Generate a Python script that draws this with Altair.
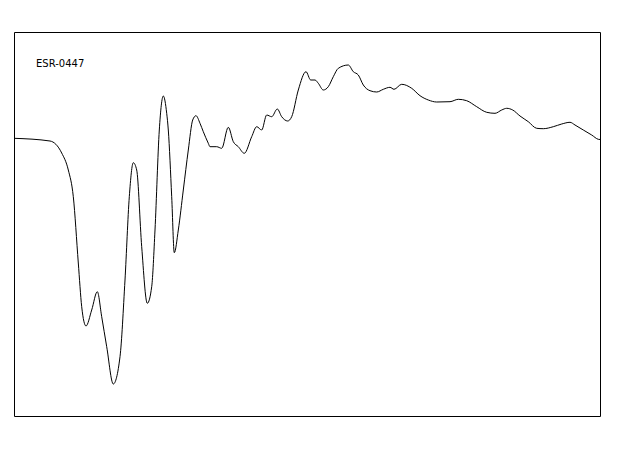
import altair as alt
import pandas as pd

# Spectrum trace (x: channel position, y: signal)
xs = [0, 36, 47.7, 54.3, 59.3, 64.3, 67.7, 72, 77.7, 83.3, 87.7, 92.7, 99.3, 106, 111, 115.3,
      119.3, 122.7, 127.7, 133.3, 137.7, 141, 145.3, 149.3, 152.7, 154.3, 157.7, 160.3, 164.3,
      169.3, 174.3, 178.7, 182, 186, 189.3, 194.3, 196, 202.7, 207.7, 214.3, 219.3, 224.3,
      230.3, 237.7, 242.7, 247.7, 252.7, 257.7, 263.3, 267.7, 273.7, 277.7, 284.3, 292, 296.7,
      301, 304.3, 309.3, 314.3, 319.3, 324.3, 334.3, 339.3, 344.3, 349.3, 356, 362.7, 369.3,
      376, 380, 387.7, 397.7, 406, 414.3, 422.7, 436, 444.3, 452.7, 462.7, 472.7, 481, 487.7,
      492.7, 498.7, 506, 514.3, 522.7, 529.3, 539.3, 547.7, 556, 561, 569.3, 577.7, 584.3, 586]
ys = [277.7, 275, 263, 246, 219.3, 153, 109.3, 90, 106, 124.3, 99.3, 69.3, 32, 59.3, 136,
      219.3, 253.3, 246, 169.3, 112.7, 129.3, 186, 286, 320, 302.7, 286, 219.3, 163.3, 186,
      226, 266, 296, 300.3, 292.7, 284.3, 272.7, 269.3, 269.3, 267.7, 288.7, 274.3, 269.3,
      262.7, 279.3, 289.3, 286, 301, 299.3, 307, 299.3, 295, 299.3, 326, 344.3, 336, 336,
      332.7, 326, 329.3, 339.3, 347.7, 351, 344.3, 341, 331, 325.3, 324, 326.7, 328.7, 326.7,
      331.7, 327.7, 320.3, 316, 314, 314.3, 316.7, 315.3, 309.3, 303.7, 302.7, 306, 307.7,
      306, 300, 294.3, 287.7, 287.3, 289.3, 292, 293.7, 291, 286, 281, 276.7, 276.5]

label_text = ["ESR-0447"]
label_x = [22]
label_y = [352.5]

df = pd.DataFrame({"x": xs, "y": ys})
lab = pd.DataFrame({"x": label_x, "y": label_y, "t": label_text})

xscale = alt.Scale(domain=[0, 586], nice=False, zero=False)
yscale = alt.Scale(domain=[0, 384], nice=False, zero=False)

line = alt.Chart(df).mark_line(color="black", strokeWidth=1, interpolate="monotone").encode(
    x=alt.X("x:Q", scale=xscale, axis=None),
    y=alt.Y("y:Q", scale=yscale, axis=None),
)

text = alt.Chart(lab).mark_text(
    align="left", baseline="middle", font="DejaVu Sans", fontSize=10, color="black"
).encode(
    x=alt.X("x:Q", scale=xscale, axis=None),
    y=alt.Y("y:Q", scale=yscale, axis=None),
    text="t:N",
)

chart = (line + text).properties(
    width=586,
    height=384,
    background="white",
    autosize=alt.AutoSizeParams(type="none"),
    padding={"left": 6, "top": 24, "right": 6, "bottom": 6},
).configure_view(stroke="black", strokeWidth=1, strokeOpacity=1)

chart.save("out.html", embed_options={"renderer": "svg", "actions": False})
